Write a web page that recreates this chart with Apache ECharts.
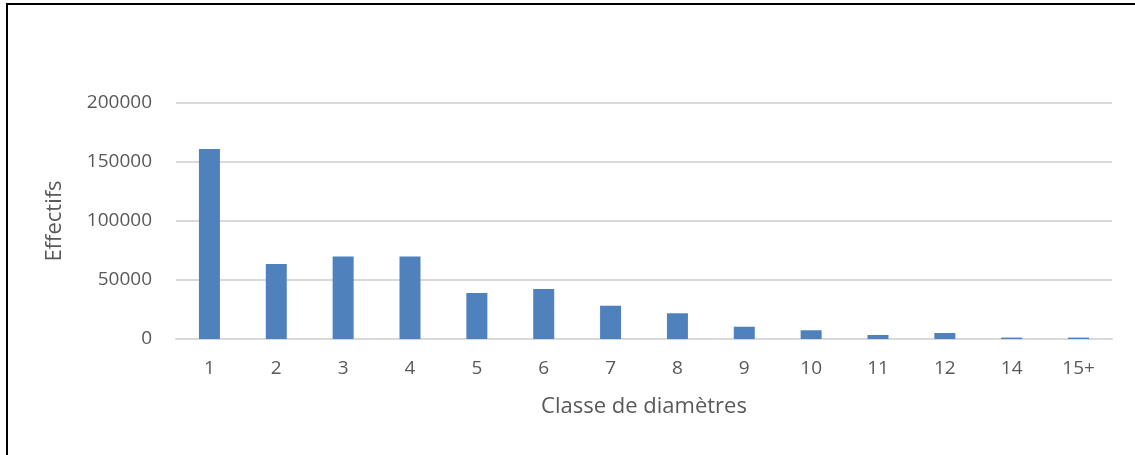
<!DOCTYPE html>
<html>
<head>
<meta charset="utf-8">
<script src="https://cdn.jsdelivr.net/npm/echarts@6/dist/echarts.min.js"></script>
<style>
  html, body { margin: 0; padding: 0; background: #fff; }
  #frame { position: absolute; left: 6px; top: 3px; width: 1129px; height: 452px;
           border-left: 2px solid #000; border-top: 2px solid #000; box-sizing: border-box; }
  #chart { position: absolute; left: 0; top: 0; width: 1135px; height: 455px; }
</style>
</head>
<body>
<div id="frame"></div>
<div id="chart"></div>
<script>
var classes = ['1', '2', '3', '4', '5', '6', '7', '8', '9', '10', '11', '12', '14', '15+'];
var effectifs = [161000, 63500, 70000, 70000, 39000, 42400, 28200, 21800, 10400, 7400, 3400, 5100, 1200, 1200];
var yTicks = [0, 50000, 100000, 150000, 200000];

var chart = echarts.init(document.getElementById('chart'));
var font = '"Open Sans", Calibri, sans-serif';

chart.setOption({
    animation: false,
    grid: { left: 176, right: 23, top: 103, bottom: 116 },
    xAxis: {
        type: 'category',
        data: classes,
        name: 'Classe de diamètres',
        nameLocation: 'middle',
        nameGap: 57,
        nameTextStyle: { color: '#595959', fontSize: 22, fontFamily: font },
        axisLine: { lineStyle: { color: '#d9d9d9', width: 2 } },
        axisTick: { show: false },
        axisLabel: { color: '#595959', fontSize: 19, fontFamily: font, margin: 20 }
    },
    yAxis: {
        type: 'value',
        min: yTicks[0],
        max: yTicks[yTicks.length - 1],
        interval: 50000,
        name: 'Effectifs',
        nameLocation: 'middle',
        nameGap: 110,
        nameRotate: 90,
        nameTextStyle: { color: '#595959', fontSize: 22, fontFamily: font },
        axisLine: { show: false },
        axisTick: { show: false },
        axisLabel: {
            color: '#595959', fontSize: 19, fontFamily: font, margin: 24,
            formatter: function (v) { return String(v); }
        },
        splitLine: { lineStyle: { color: '#d9d9d9', width: 2 } }
    },
    series: [{
        type: 'bar',
        data: effectifs,
        barWidth: 21,
        itemStyle: { color: '#4f81bd' }
    }]
});
</script>
</body>
</html>
